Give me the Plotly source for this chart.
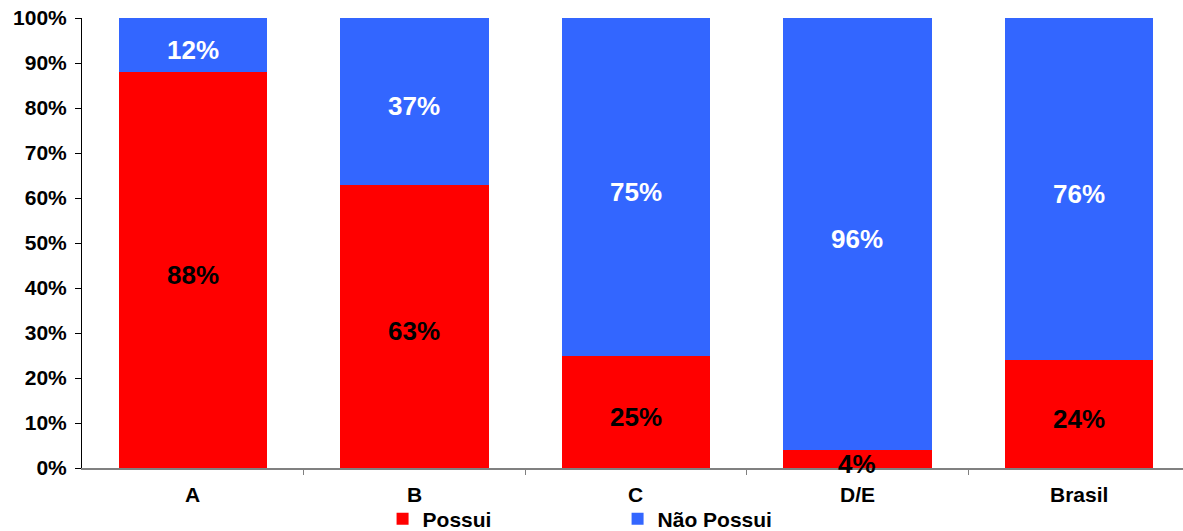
import plotly.graph_objects as go

categories = ["A", "B", "C", "D/E", "Brasil"]
possui = [88, 63, 25, 4, 24]
nao_possui = [12, 37, 75, 96, 76]
ytick_vals = [0, 10, 20, 30, 40, 50, 60, 70, 80, 90, 100]
ytick_text = [f"{v}%" for v in ytick_vals]

RED = "#FF0000"
BLUE = "#3366FF"
FONT = "Arial, Liberation Sans, sans-serif"

xs = list(range(len(categories)))

fig = go.Figure()
fig.add_trace(go.Bar(x=xs, y=possui, name="Possui", marker=dict(color=RED, line=dict(width=0)),
                     width=0.67, hoverinfo="skip"))
fig.add_trace(go.Bar(x=xs, y=nao_possui, name="Não Possui", marker=dict(color=BLUE, line=dict(width=0)),
                     width=0.67, hoverinfo="skip"))

annotations = []
for i, (p, n) in enumerate(zip(possui, nao_possui)):
    annotations.append(dict(x=i, y=p / 2, xref="x", yref="y", text=f"{p}%", showarrow=False,
                            yshift=-5, font=dict(family=FONT, size=26, color="black", weight="bold")))
    annotations.append(dict(x=i, y=p + n / 2, xref="x", yref="y", text=f"{n}%", showarrow=False,
                            yshift=-5, font=dict(family=FONT, size=26, color="white", weight="bold")))
    annotations.append(dict(x=i, y=0, xref="x", yref="paper", text=categories[i], showarrow=False,
                            yanchor="top", yshift=-13,
                            font=dict(family=FONT, size=21, color="black", weight="bold")))

fig.update_layout(
    barmode="stack",
    width=1183, height=531,
    margin=dict(l=82, r=0, t=18, b=63, autoexpand=False),
    plot_bgcolor="white", paper_bgcolor="white",
    annotations=annotations,
    showlegend=True,
    legend=dict(orientation="h", x=0.273, xanchor="left", y=-0.068, yanchor="top",
                traceorder="normal",
                entrywidth=190, entrywidthmode="pixels",
                font=dict(family=FONT, size=21, color="black", weight="bold"),
                bgcolor="rgba(0,0,0,0)", itemsizing="constant"),
    xaxis=dict(range=[-0.5, 4.47], tickmode="array", tickvals=[0.5, 1.5, 2.5, 3.5],
               ticktext=["", "", "", ""], ticks="outside", ticklen=5, tickcolor="#808080",
               showline=True, linecolor="#808080", linewidth=1.5, showgrid=False, zeroline=False,
               fixedrange=True),
    yaxis=dict(range=[0, 100], tickmode="array", tickvals=ytick_vals, ticktext=ytick_text,
               ticks="outside", ticklen=6, tickcolor="black", showline=True, linecolor="black",
               linewidth=1, showgrid=False, zeroline=False, ticklabelstandoff=4,
               tickfont=dict(family=FONT, size=21, color="black", weight="bold")),
)

fig.write_html("out.html")
